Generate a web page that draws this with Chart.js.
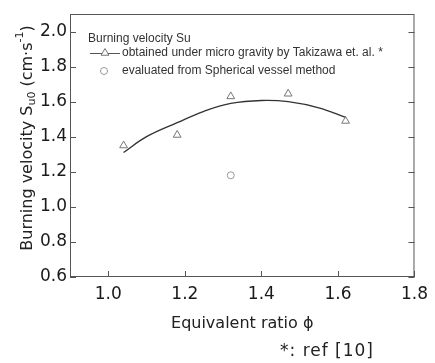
<!DOCTYPE html>
<html>
<head>
<meta charset="utf-8">
<script src="https://cdn.jsdelivr.net/npm/chart.js@4/dist/chart.umd.min.js"></script>
<style>
  html, body { margin: 0; padding: 0; background: #fff; }
  #wrap { width: 435px; height: 363px; }
</style>
</head>
<body>
<div id="wrap"><canvas id="chart" width="435" height="363"></canvas></div>
<script>
// Takizawa et al. (micro gravity) measurements
const phiTakizawa = [1.04, 1.18, 1.32, 1.47, 1.62];
const suTakizawa = [1.35, 1.41, 1.63, 1.645, 1.49];

// fitted curve through the micro gravity data
const phiFit = [1.04, 1.10, 1.18, 1.25, 1.32, 1.40, 1.47, 1.55, 1.62];
const suFit = [1.31, 1.40, 1.48, 1.545, 1.59, 1.607, 1.60, 1.565, 1.51];

// spherical vessel method
const phiVessel = [1.32];
const suVessel = [1.18];

const xTicks = [1.0, 1.2, 1.4, 1.6, 1.8];
const yTicks = [0.6, 0.8, 1.0, 1.2, 1.4, 1.6, 1.8, 2.0];

const legendTitle = 'Burning velocity Su';
const footnote = '*: ref [10]';

const toXY = (xs, ys) => xs.map((x, i) => ({ x, y: ys[i] }));

// frame with inward tick marks on left, right and bottom
const framePlugin = {
  id: 'frame',
  afterDraw(chart) {
    const { ctx, chartArea: a, scales } = chart;
    const len = 6;
    ctx.save();
    ctx.strokeStyle = '#555';
    ctx.lineWidth = 1;
    ctx.strokeRect(a.left + 0.5, a.top + 0.5, a.right - a.left - 1, a.bottom - a.top - 1);
    ctx.beginPath();
    yTicks.forEach(v => {
      const y = Math.round(scales.y.getPixelForValue(v)) + 0.5;
      ctx.moveTo(a.left, y); ctx.lineTo(a.left + len, y);
      ctx.moveTo(a.right, y); ctx.lineTo(a.right - len, y);
    });
    xTicks.forEach(v => {
      const x = Math.round(scales.x.getPixelForValue(v)) + 0.5;
      ctx.moveTo(x, a.bottom); ctx.lineTo(x, a.bottom - len);
    });
    ctx.stroke();
    ctx.restore();
  }
};

// rotated y title with subscript / superscript, plus footnote
const yTitlePlugin = {
  id: 'yTitle',
  afterDraw(chart) {
    const ctx = chart.ctx;
    const big = '16px "DejaVu Sans"';
    const small = '11px "DejaVu Sans"';
    const parts = [
      { t: 'Burning velocity S', f: big, dy: 0 },
      { t: 'u0', f: small, dy: 4 },
      { t: ' (cm·s', f: big, dy: 0 },
      { t: '-1', f: small, dy: -8 },
      { t: ')', f: big, dy: 0 }
    ];
    ctx.save();
    let total = 0;
    parts.forEach(p => { ctx.font = p.f; total += ctx.measureText(p.t).width; });
    ctx.translate(28, 138);
    ctx.rotate(-Math.PI / 2);
    ctx.fillStyle = '#222';
    ctx.textBaseline = 'middle';
    let x = -total / 2;
    parts.forEach(p => {
      ctx.font = p.f;
      ctx.fillText(p.t, x, p.dy);
      x += ctx.measureText(p.t).width;
    });
    ctx.restore();

    ctx.save();
    ctx.font = '17px "DejaVu Sans"';
    ctx.letterSpacing = '1px';
    ctx.fillStyle = '#222';
    ctx.textBaseline = 'middle';
    ctx.fillText(footnote, 280, 352);
    ctx.restore();
  }
};

// legend drawn inside the plot area
const insideLegend = {
  id: 'insideLegend',
  afterDraw(chart) {
    const { ctx, chartArea: a } = chart;
    const ds = chart.data.datasets;
    const x0 = a.left + 18;
    ctx.save();
    ctx.textBaseline = 'middle';
    ctx.font = '12px "Liberation Sans"';
    ctx.fillStyle = '#333';
    ctx.fillText(legendTitle, x0, a.top + 25);

    // micro gravity entry: line with triangle
    let y = a.top + 39;
    ctx.strokeStyle = '#555';
    ctx.lineWidth = 1;
    ctx.beginPath();
    ctx.moveTo(x0 + 2, y + 0.5); ctx.lineTo(x0 + 32, y + 0.5);
    ctx.stroke();
    ctx.fillStyle = '#fff';
    ctx.strokeStyle = ds[0].borderColor;
    Chart.helpers.drawPoint(ctx, {
      pointStyle: 'triangle', radius: 4.5, borderWidth: 1, rotation: 0
    }, x0 + 17, y);
    ctx.fillStyle = '#333';
    ctx.fillText(ds[0].label, x0 + 34, y);

    // spherical vessel entry: open circle
    y = a.top + 57;
    ctx.strokeStyle = ds[2].borderColor;
    ctx.beginPath();
    ctx.arc(x0 + 16, y, 3.5, 0, Math.PI * 2);
    ctx.stroke();
    ctx.fillText(ds[2].label, x0 + 34, y);
    ctx.restore();
  }
};

new Chart(document.getElementById('chart'), {
  type: 'scatter',
  data: {
    datasets: [
      {
        label: 'obtained under micro gravity by Takizawa et. al. *',
        data: toXY(phiTakizawa, suTakizawa),
        pointStyle: 'triangle',
        pointRadius: 4.5,
        pointBorderWidth: 1,
        borderColor: '#777',
        backgroundColor: 'rgba(255,255,255,0)'
      },
      {
        label: 'fit',
        data: toXY(phiFit, suFit),
        showLine: true,
        tension: 0.4,
        pointRadius: 0,
        borderColor: '#333',
        borderWidth: 1.4
      },
      {
        label: 'evaluated from Spherical vessel method',
        data: toXY(phiVessel, suVessel),
        pointStyle: 'circle',
        pointRadius: 3.5,
        pointBorderWidth: 1,
        borderColor: '#999',
        backgroundColor: 'rgba(255,255,255,0)'
      }
    ]
  },
  options: {
    responsive: false,
    animation: false,
    devicePixelRatio: 1,
    layout: { padding: { top: 14, right: 14, left: 0, bottom: 0 } },
    plugins: {
      legend: { display: false },
      tooltip: { enabled: false }
    },
    scales: {
      x: {
        type: 'linear',
        min: 0.9,
        max: 1.8,
        afterBuildTicks: s => { s.ticks = xTicks.map(v => ({ value: v })); },
        afterFit: s => { s.height = 86; },
        grid: { display: false, drawTicks: false },
        border: { display: false },
        ticks: {
          padding: 7,
          color: '#1a1a1a',
          font: { family: 'DejaVu Sans', size: 17 },
          callback: v => v.toFixed(1)
        },
        title: {
          display: true,
          text: 'Equivalent ratio ϕ',
          color: '#222',
          font: { family: 'DejaVu Sans', size: 16 },
          padding: { top: 0, bottom: 30 }
        }
      },
      y: {
        type: 'linear',
        min: 0.6,
        max: 2.1,
        afterBuildTicks: s => { s.ticks = yTicks.map(v => ({ value: v })); },
        afterFit: s => { s.width = 70; },
        grid: { display: false, drawTicks: false },
        border: { display: false },
        ticks: {
          padding: 3,
          color: '#1a1a1a',
          font: { family: 'DejaVu Sans', size: 17 },
          callback: v => v.toFixed(1)
        }
      }
    }
  },
  plugins: [framePlugin, yTitlePlugin, insideLegend]
});
</script>
</body>
</html>
